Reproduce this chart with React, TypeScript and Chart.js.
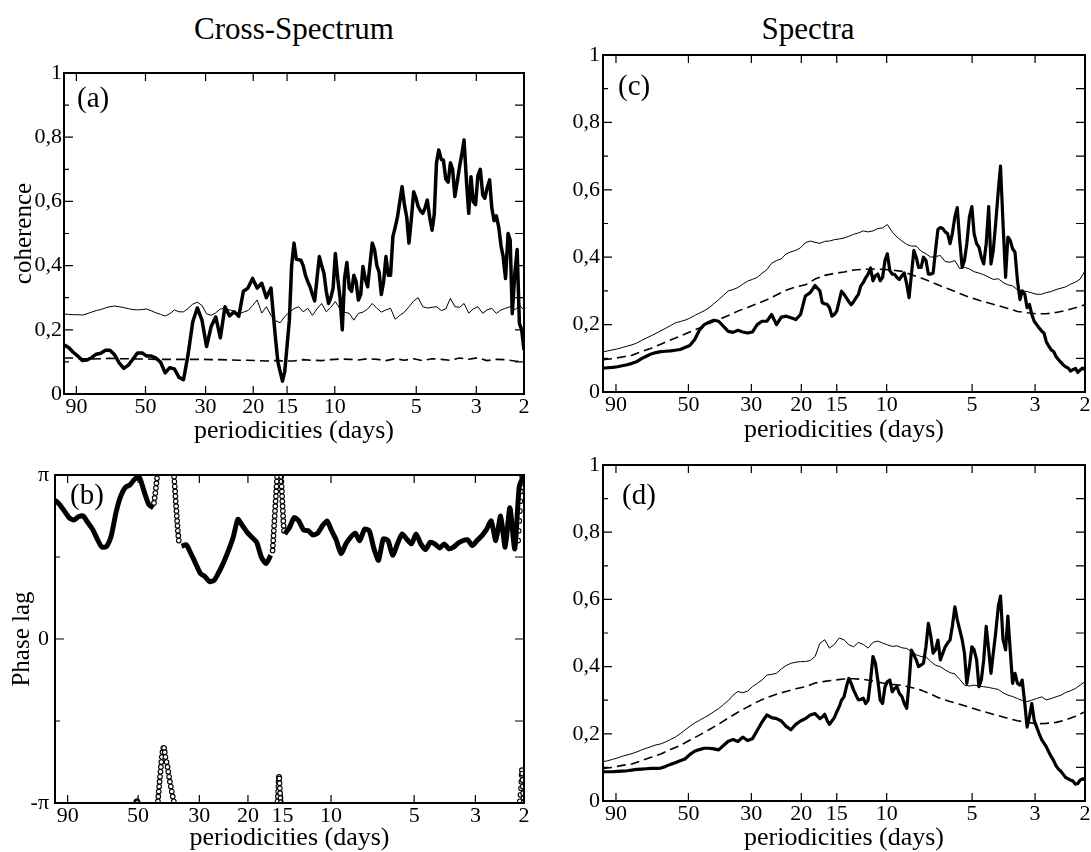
import React, { useEffect, useRef } from "react";
import { Chart, registerables } from "chart.js";
Chart.register(...registerables);

const SERIF = "'Liberation Serif', 'Times New Roman', 'DejaVu Serif', serif";

// ---------------- x axis (periodicities, days) ----------------
const xTickLabels = [90, 50, 30, 20, 15, 10, 5, 3, 2];

// periods sampled every 0.01 of the log range 100 -> 2 days
const periodsCoarse = [
  100, 96.16, 92.48, 88.93, 85.52, 82.24, 79.08, 76.05, 73.13, 70.33,
  67.63, 65.04, 62.54, 60.14, 57.84, 55.62, 53.48, 51.43, 49.46, 47.56,
  45.74, 43.98, 42.3, 40.67, 39.11, 37.61, 36.17, 34.78, 33.45, 32.17,
  30.93, 29.75, 28.61, 27.51, 26.45, 25.44, 24.46, 23.52, 22.62, 21.75,
  20.92, 20.12, 19.35, 18.6, 17.89, 17.2, 16.54, 15.91, 15.3, 14.71,
  14.14, 13.6, 13.08, 12.58, 12.09, 11.63, 11.18, 10.75, 10.34, 9.95,
  9.56, 9.2, 8.84, 8.5, 8.18, 7.87, 7.56, 7.27, 6.99, 6.73,
  6.47, 6.22, 5.98, 5.75, 5.53, 5.32, 5.11, 4.92, 4.73, 4.55,
  4.37, 4.21, 4.04, 3.89, 3.74, 3.6, 3.46, 3.33, 3.2, 3.08,
  2.96, 2.84, 2.74, 2.63, 2.53, 2.43, 2.34, 2.25, 2.16, 2.08,
  2.0,
];

// finer sampling for the noisy thick curves at short periods
const periodsFine = [
  100, 96.16, 92.48, 88.93, 85.52, 82.24, 79.08, 76.05, 73.13, 70.33,
  67.63, 65.04, 62.54, 60.14, 57.84, 55.62, 53.48, 51.43, 49.46, 47.56,
  45.74, 43.98, 42.3, 40.67, 39.11, 37.61, 36.17, 34.78, 33.45, 32.17,
  30.93, 29.75, 28.61, 27.51, 26.45, 25.44, 24.46, 23.52, 22.62, 21.75,
  20.92, 20.12, 19.35, 18.6, 17.89,
  17.2, 16.87, 16.54, 16.22, 15.91, 15.6, 15.3, 15.0, 14.71, 14.43,
  14.14, 13.87, 13.6, 13.34, 13.08, 12.83, 12.58, 12.34, 12.09, 11.86,
  11.63, 11.4, 11.18, 10.96, 10.75, 10.54, 10.34, 10.14, 9.95, 9.75,
  9.56, 9.38, 9.2, 9.02, 8.84, 8.67, 8.5, 8.34, 8.18, 8.02,
  7.87, 7.72, 7.56, 7.42, 7.27, 7.13, 6.99, 6.86, 6.73, 6.6,
  6.47, 6.34, 6.22, 6.1, 5.98, 5.87, 5.75, 5.64, 5.53, 5.42,
  5.32, 5.22, 5.11, 5.01, 4.92, 4.82, 4.73, 4.64, 4.55, 4.46,
  4.37, 4.29, 4.21, 4.13, 4.04, 3.97, 3.89, 3.81, 3.74, 3.67,
  3.6, 3.53, 3.46, 3.39, 3.33, 3.26, 3.2, 3.14, 3.08, 3.02,
  2.96, 2.9, 2.84, 2.79, 2.74, 2.68, 2.63, 2.58, 2.53, 2.48,
  2.43, 2.39, 2.34, 2.29, 2.25, 2.21, 2.16, 2.12, 2.08, 2.04,
  2.0,
];

// coarser sampling for the smooth dashed curves
const periodsDash = [
  100, 92.48, 85.52, 79.08, 73.13, 67.63, 62.54, 57.84, 53.48, 49.46,
  45.74, 42.3, 39.11, 36.17, 33.45, 30.93, 28.61, 26.45, 24.46, 22.62,
  20.92, 19.35, 17.89, 16.54, 15.3, 14.14, 13.08, 12.09, 11.18, 10.34,
  9.56, 8.84, 8.18, 7.56, 6.99, 6.47, 5.98, 5.53, 5.11, 4.73,
  4.37, 4.04, 3.74, 3.46, 3.2, 2.96, 2.74, 2.53, 2.34, 2.16,
  2.0,
];

// ---------------- (a) coherence ----------------
const coherenceThick = [
  0.153, 0.145, 0.13, 0.118, 0.104, 0.106, 0.113, 0.124, 0.127, 0.136,
  0.136, 0.122, 0.097, 0.08, 0.09, 0.109, 0.128, 0.128, 0.118, 0.118,
  0.112, 0.099, 0.066, 0.082, 0.078, 0.052, 0.045, 0.125, 0.225, 0.268,
  0.23, 0.148, 0.21, 0.24, 0.175, 0.272, 0.243, 0.256, 0.242, 0.32,
  0.33, 0.36, 0.33, 0.345, 0.3,
  0.33, 0.25, 0.17, 0.1, 0.07, 0.04, 0.07, 0.15, 0.23, 0.4,
  0.47, 0.42, 0.418, 0.417, 0.4, 0.37, 0.35, 0.334, 0.31, 0.29,
  0.36, 0.428, 0.4, 0.376, 0.32, 0.282, 0.3, 0.33, 0.438, 0.36,
  0.3, 0.2, 0.36, 0.41, 0.33, 0.32, 0.37, 0.35, 0.293, 0.31,
  0.397, 0.36, 0.334, 0.4, 0.47, 0.45, 0.4, 0.38, 0.31, 0.35,
  0.428, 0.37, 0.37, 0.49, 0.52, 0.55, 0.6, 0.646, 0.59, 0.55,
  0.47, 0.54, 0.63, 0.61, 0.584, 0.57, 0.563, 0.58, 0.604, 0.55,
  0.51, 0.56, 0.72, 0.76, 0.73, 0.729, 0.67, 0.66, 0.72, 0.7,
  0.615, 0.66, 0.708, 0.75, 0.791, 0.66, 0.563, 0.677, 0.6, 0.59,
  0.68, 0.7, 0.62, 0.61, 0.64, 0.667, 0.58, 0.54, 0.555, 0.52,
  0.46, 0.43, 0.36, 0.5, 0.48, 0.25, 0.38, 0.45, 0.22, 0.2,
  0.137,
];
const coherenceThin = [
  0.249, 0.248, 0.247, 0.247, 0.246, 0.25, 0.255, 0.26, 0.263, 0.268,
  0.272, 0.274, 0.272, 0.269, 0.266, 0.263, 0.262, 0.263, 0.265, 0.259,
  0.253, 0.248, 0.243, 0.25, 0.262, 0.256, 0.256, 0.267, 0.28, 0.286,
  0.276, 0.25, 0.245, 0.253, 0.265, 0.266, 0.262, 0.258, 0.25, 0.255,
  0.26, 0.275, 0.293, 0.252, 0.272, 0.245, 0.228, 0.222, 0.241, 0.255,
  0.266, 0.272, 0.256, 0.267, 0.245, 0.265, 0.282, 0.256, 0.27, 0.288,
  0.265, 0.255, 0.251, 0.23, 0.251, 0.255, 0.265, 0.282, 0.267, 0.255,
  0.262, 0.267, 0.233, 0.245, 0.255, 0.272, 0.29, 0.3, 0.272, 0.268,
  0.27, 0.272, 0.26, 0.265, 0.298, 0.272, 0.27, 0.282, 0.252, 0.265,
  0.272, 0.251, 0.262, 0.267, 0.251, 0.262, 0.267, 0.272, 0.262, 0.277,
  0.262,
];
const coherenceDashed = [
  0.112, 0.112, 0.11, 0.109, 0.11, 0.111, 0.11, 0.11, 0.109, 0.109,
  0.108, 0.108, 0.108, 0.108, 0.108, 0.108, 0.107, 0.107, 0.106, 0.105,
  0.105, 0.104, 0.103, 0.104, 0.103, 0.103, 0.107, 0.105, 0.104, 0.107,
  0.109, 0.108, 0.106, 0.11, 0.108, 0.104, 0.11, 0.105, 0.11, 0.104,
  0.11, 0.108, 0.105, 0.112, 0.108, 0.113, 0.104, 0.108, 0.107, 0.103,
  0.1,
];

// ---------------- (b) phase lag, in units of pi ----------------
const phaseLagPi = [
  0.848, 0.82, 0.78, 0.74, 0.725, 0.745, 0.75, 0.71, 0.67, 0.61,
  0.56, 0.565, 0.63, 0.77, 0.87, 0.925, 0.94, 0.975, 0.985, 0.9,
  0.82, 0.8, null, null, null, null, null, 0.565, 0.575, 0.52,
  0.46, 0.4, 0.38, 0.35, 0.36, 0.41, 0.47, 0.54, 0.62, 0.73,
  0.69, 0.65, 0.62, 0.59, 0.5, 0.46, 0.51, null, null, 0.64,
  0.68, 0.74, 0.72, 0.665, 0.66, 0.635, 0.645, 0.69, 0.72, 0.66,
  0.6, 0.52, 0.58, 0.62, 0.645, 0.6, 0.67, 0.66, 0.55, 0.48,
  0.61, 0.6, 0.51, 0.58, 0.64, 0.61, 0.58, 0.64, 0.58, 0.545,
  0.59, 0.58, 0.555, 0.58, 0.55, 0.56, 0.585, 0.6, 0.605, 0.57,
  0.6, 0.63, 0.665, 0.72, 0.6, 0.75, 0.56, 0.8, 0.55, 0.93,
  1.0,
];
// individual samples where the phase wraps through +-pi
const phaseJumpPeriods = [
  50.8, 50.6, 50.4, 50.2,
  43.8, 43.55, 43.3, 43.1, 42.9, 42.7,
  42.38, 42.25, 42.1, 41.95, 41.8, 41.65, 41.5, 41.35, 41.2, 41.03, 40.8, 40.51,
  40.28, 40.04,
  39.81, 39.45, 39.11, 38.88, 38.6, 38.35, 38.05, 37.76, 37.45, 37.12,
  37.03, 36.93, 36.83, 36.72, 36.62, 36.52, 36.42, 36.31, 36.21, 36.1, 36.0, 35.89, 35.75, 35.61,
  16.28, 16.24, 16.2, 16.16, 16.12, 16.08, 16.04, 16.0, 15.96, 15.92, 15.88, 15.84, 15.8, 15.76, 15.72, 15.68,
  15.62, 15.58, 15.55, 15.52, 15.49, 15.46, 15.43, 15.4, 15.37, 15.33, 15.29, 15.25, 15.21,
  15.16, 15.13, 15.1, 15.07, 15.04, 15.01, 14.98, 14.95, 14.92, 14.89, 14.85, 14.81,
  2.1, 2.09, 2.08, 2.07, 2.06, 2.05, 2.04, 2.03, 2.02, 2.01,
  2.07, 2.06, 2.05, 2.045, 2.04, 2.035, 2.03, 2.025, 2.02, 2.015, 2.01, 2.005,
];
const phaseJumpLagPi = [
  -0.995, -0.99, -0.99, -0.995,
  0.83, 0.86, 0.89, 0.92, 0.95, 0.98,
  -0.99, -0.96, -0.93, -0.9, -0.87, -0.84, -0.81, -0.78, -0.75, -0.72, -0.69, -0.665,
  -0.665, -0.69,
  -0.72, -0.75, -0.78, -0.81, -0.84, -0.87, -0.9, -0.93, -0.96, -0.99,
  0.99, 0.96, 0.93, 0.9, 0.87, 0.84, 0.81, 0.78, 0.75, 0.72, 0.69, 0.66, 0.63, 0.6,
  0.54, 0.57, 0.6, 0.63, 0.66, 0.69, 0.72, 0.75, 0.78, 0.81, 0.84, 0.87, 0.9, 0.93, 0.96, 0.99,
  -0.99, -0.96, -0.93, -0.9, -0.87, -0.845, -0.84, -0.85, -0.88, -0.91, -0.94, -0.97, -0.995,
  0.99, 0.96, 0.93, 0.9, 0.87, 0.84, 0.81, 0.78, 0.75, 0.72, 0.69, 0.66,
  0.6, 0.66, 0.72, 0.78, 0.84, 0.9, 0.95, 0.99, 0.97, 0.995,
  -0.99, -0.95, -0.91, -0.87, -0.83, -0.8, -0.82, -0.86, -0.9, -0.94, -0.97, -0.995,
];

// ---------------- (c) spectra ----------------
const spectraCThick = [
  0.071, 0.072, 0.073, 0.075, 0.078, 0.081, 0.085, 0.09, 0.099, 0.106,
  0.113, 0.117, 0.12, 0.121, 0.122, 0.124, 0.126, 0.132, 0.138, 0.155,
  0.183, 0.2, 0.207, 0.213, 0.21, 0.195, 0.18, 0.177, 0.183, 0.178,
  0.175, 0.178, 0.2, 0.21, 0.21, 0.23, 0.2, 0.222, 0.225, 0.22,
  0.215, 0.23, 0.285, 0.295, 0.316,
  0.3, 0.265, 0.262, 0.26, 0.25, 0.225, 0.23, 0.24, 0.27, 0.299,
  0.29, 0.279, 0.268, 0.259, 0.268, 0.279, 0.29, 0.315, 0.325, 0.339,
  0.35, 0.368, 0.33, 0.345, 0.35, 0.33, 0.34, 0.39, 0.41, 0.36,
  0.35, 0.349, 0.34, 0.334, 0.345, 0.353, 0.32, 0.28, 0.35, 0.42,
  0.4, 0.37, 0.37, 0.4, 0.39, 0.35, 0.35, 0.353, 0.42, 0.482,
  0.488, 0.485, 0.475, 0.47, 0.44, 0.47, 0.52, 0.547, 0.45, 0.37,
  0.39, 0.44, 0.52, 0.55, 0.47, 0.44, 0.43, 0.4, 0.38, 0.44,
  0.55, 0.38, 0.42, 0.5, 0.6, 0.67, 0.5, 0.34, 0.46, 0.45,
  0.425, 0.415, 0.33, 0.274, 0.3, 0.29, 0.25, 0.26, 0.23, 0.21,
  0.2, 0.19, 0.18, 0.175, 0.15, 0.135, 0.125, 0.12, 0.105, 0.096,
  0.088, 0.081, 0.075, 0.071, 0.062, 0.066, 0.07, 0.058, 0.065, 0.071,
  0.066,
];
const spectraCThin = [
  0.119, 0.122, 0.125, 0.128, 0.132, 0.136, 0.14, 0.145, 0.153, 0.16,
  0.167, 0.174, 0.182, 0.189, 0.197, 0.205, 0.209, 0.213, 0.219, 0.227,
  0.234, 0.241, 0.25, 0.262, 0.274, 0.287, 0.3, 0.304, 0.31, 0.32,
  0.329, 0.334, 0.34, 0.352, 0.363, 0.382, 0.39, 0.395, 0.41, 0.416,
  0.42, 0.428, 0.443, 0.448, 0.444, 0.441, 0.447, 0.448, 0.452, 0.454,
  0.457, 0.462, 0.468, 0.472, 0.478, 0.475, 0.478, 0.485, 0.487, 0.497,
  0.475, 0.46, 0.448, 0.438, 0.433, 0.433, 0.418, 0.41, 0.4, 0.402,
  0.405, 0.387, 0.385, 0.39, 0.366, 0.37, 0.365, 0.357, 0.353, 0.348,
  0.341, 0.334, 0.336, 0.325, 0.318, 0.315, 0.303, 0.3, 0.298, 0.294,
  0.29, 0.29, 0.295, 0.298, 0.304, 0.308, 0.312, 0.32, 0.326, 0.335,
  0.36,
];
const spectraCDashed = [
  0.096, 0.099, 0.104, 0.109, 0.12, 0.13, 0.142, 0.154, 0.166, 0.178,
  0.19, 0.203, 0.215, 0.227, 0.24, 0.251, 0.262, 0.274, 0.288, 0.302,
  0.312, 0.318, 0.335, 0.346, 0.352, 0.356, 0.362, 0.364, 0.365, 0.364,
  0.362, 0.358, 0.348, 0.338, 0.327, 0.315, 0.304, 0.292, 0.281, 0.272,
  0.264, 0.256, 0.248, 0.239, 0.235, 0.232, 0.232, 0.236, 0.242, 0.25,
  0.259,
];

// ---------------- (d) spectra ----------------
const spectraDThick = [
  0.087, 0.087, 0.087, 0.088, 0.089, 0.09, 0.092, 0.094, 0.095, 0.096,
  0.097, 0.097, 0.098, 0.103, 0.109, 0.114, 0.12, 0.125, 0.138, 0.148,
  0.153, 0.157, 0.157, 0.155, 0.152, 0.165, 0.178, 0.183, 0.177, 0.19,
  0.18, 0.185, 0.21, 0.235, 0.256, 0.248, 0.245, 0.238, 0.222, 0.212,
  0.228, 0.238, 0.245, 0.256, 0.26,
  0.245, 0.25, 0.258, 0.24, 0.228, 0.238, 0.248, 0.265, 0.28, 0.3,
  0.31, 0.34, 0.365, 0.35, 0.33, 0.315, 0.301, 0.302, 0.306, 0.29,
  0.3, 0.36, 0.43, 0.41, 0.36, 0.3, 0.29, 0.34, 0.355, 0.36,
  0.325, 0.335, 0.34, 0.32, 0.311, 0.29, 0.276, 0.35, 0.449, 0.435,
  0.42, 0.4, 0.405, 0.41, 0.46, 0.529, 0.49, 0.44, 0.45, 0.479,
  0.42, 0.44, 0.459, 0.47, 0.479, 0.52, 0.578, 0.54, 0.51, 0.48,
  0.44, 0.35, 0.4, 0.459, 0.45, 0.42, 0.34, 0.36, 0.42, 0.52,
  0.45, 0.38, 0.44, 0.5, 0.58, 0.61, 0.48, 0.45, 0.55, 0.45,
  0.35, 0.38, 0.35, 0.345, 0.36, 0.29, 0.22, 0.25, 0.29, 0.24,
  0.22, 0.2, 0.182, 0.172, 0.162, 0.145, 0.132, 0.12, 0.105, 0.095,
  0.088, 0.08, 0.07, 0.066, 0.062, 0.06, 0.05, 0.052, 0.062, 0.066,
  0.063,
];
const spectraDThin = [
  0.117, 0.12, 0.124, 0.128, 0.133, 0.137, 0.141, 0.146, 0.152, 0.157,
  0.162, 0.167, 0.17, 0.176, 0.183, 0.19, 0.2, 0.211, 0.222, 0.232,
  0.24, 0.248, 0.256, 0.266, 0.275, 0.287, 0.299, 0.315, 0.326, 0.322,
  0.327, 0.34, 0.35, 0.36, 0.375, 0.377, 0.38, 0.393, 0.403, 0.41,
  0.413, 0.415, 0.415, 0.418, 0.43, 0.469, 0.48, 0.455, 0.466, 0.485,
  0.48, 0.465, 0.459, 0.472, 0.466, 0.455, 0.472, 0.476, 0.47, 0.465,
  0.46, 0.462, 0.456, 0.454, 0.445, 0.435, 0.43, 0.429, 0.415, 0.404,
  0.4, 0.39, 0.382, 0.378, 0.362, 0.345, 0.342, 0.345, 0.342, 0.34,
  0.338, 0.335, 0.332, 0.322, 0.315, 0.311, 0.305, 0.299, 0.296, 0.3,
  0.305, 0.31, 0.301, 0.305, 0.31, 0.315, 0.323, 0.328, 0.335, 0.345,
  0.355,
];
const spectraDDashed = [
  0.097, 0.1, 0.106, 0.11, 0.12, 0.13, 0.14, 0.153, 0.165, 0.181,
  0.196, 0.212, 0.229, 0.247, 0.264, 0.28, 0.295, 0.308, 0.318, 0.326,
  0.334, 0.34, 0.351, 0.356, 0.36, 0.363, 0.364, 0.362, 0.357, 0.351,
  0.347, 0.344, 0.338, 0.33, 0.318, 0.305, 0.296, 0.288, 0.279, 0.27,
  0.262, 0.254, 0.246, 0.239, 0.234, 0.23, 0.231, 0.234, 0.241, 0.252,
  0.266,
];

const unitTicks = [0, 0.2, 0.4, 0.6, 0.8, 1];
const unitMinor = [0.1, 0.3, 0.5, 0.7, 0.9];
const phaseTicks = [-1, 0, 1];
const phaseMinor = [-0.5, 0.5];

// ---------------- helpers ----------------
function pts(periods: number[], values: (number | null)[]) {
  return periods.map((p, i) => ({ x: p, y: values[i] }));
}
function lineSet(periods: number[], values: (number | null)[], width: number, dash: number[] = [], tension = 0) {
  return {
    type: "line",
    data: pts(periods, values),
    borderColor: "#000",
    borderWidth: width,
    borderDash: dash,
    borderJoinStyle: "round",
    pointRadius: 0,
    fill: false,
    tension,
    spanGaps: false,
  };
}
function pointSet(periods: number[], values: number[]) {
  return {
    type: "line",
    data: pts(periods, values),
    showLine: false,
    borderColor: "#000",
    pointRadius: 2.3,
    pointBorderWidth: 1.1,
    pointBorderColor: "#000",
    pointBackgroundColor: "#fff",
  };
}
const fmtUnit = (v: number) => (v === 0 ? "0" : v === 1 ? "1" : v.toFixed(1).replace(".", ","));
const fmtPhase = (v: number) => (v === 1 ? "π" : v === -1 ? "-π" : "0");

const framePlugin = {
  id: "frame",
  afterDatasetsDraw(chart: any, _args: any, opts: any) {
    const { ctx, chartArea } = chart;
    const { left, right, top, bottom } = chartArea;
    const xs = chart.scales.x;
    const ys = chart.scales.y;
    ctx.save();
    ctx.strokeStyle = "#000";
    ctx.lineWidth = 1.2;
    ctx.beginPath();
    for (const v of xTickLabels) {
      const px = xs.getPixelForValue(v);
      ctx.moveTo(px, bottom);
      ctx.lineTo(px, bottom - 8);
      ctx.moveTo(px, top);
      ctx.lineTo(px, top + 8);
    }
    for (const v of opts.yMajor) {
      const py = ys.getPixelForValue(v);
      ctx.moveTo(left, py);
      ctx.lineTo(left + 9, py);
      ctx.moveTo(right, py);
      ctx.lineTo(right - 9, py);
    }
    for (const v of opts.yMinor) {
      const py = ys.getPixelForValue(v);
      ctx.moveTo(left, py);
      ctx.lineTo(left + 5, py);
      ctx.moveTo(right, py);
      ctx.lineTo(right - 9, py);
    }
    ctx.stroke();
    ctx.lineWidth = 2;
    ctx.strokeRect(left, top, right - left, bottom - top);
    ctx.fillStyle = "#000";
    ctx.font = `29px ${SERIF}`;
    ctx.textAlign = "left";
    ctx.textBaseline = "middle";
    ctx.fillText(opts.label, left + opts.labelDx, top + opts.labelDy);
    ctx.restore();
  },
};

type Rect = { left: number; top: number; width: number; height: number };
type Area = { left: number; top: number; right: number; bottom: number };
type PanelSpec = {
  rect: Rect;
  area: Area;
  yMin: number;
  yMax: number;
  yTicks: number[];
  yMajor: number[];
  yMinor: number[];
  yFormat: (v: number) => string;
  yTitle?: string;
  yTitleX?: number;
  yTickPad: number;
  xTitleY: number;
  label: string;
  labelDx: number;
  labelDy: number;
  datasets: any[];
};

function Panel({ spec }: { spec: PanelSpec }) {
  const ref = useRef<HTMLCanvasElement | null>(null);
  useEffect(() => {
    const r = spec.rect;
    const a = spec.area;
    const padTop = a.top - r.top;
    const padRight = r.left + r.width - a.right;
    const yW = a.left - r.left;
    const xH = r.top + r.height - a.bottom;
    const xTitleSize = 26;
    const yTitleSize = 25;
    const xTitlePadBottom = r.top + r.height - spec.xTitleY - xTitleSize / 2;
    const yTitlePadTop = spec.yTitleX !== undefined ? spec.yTitleX - r.left - yTitleSize / 2 : 0;
    const chart = new Chart(ref.current as HTMLCanvasElement, {
      type: "line",
      data: { datasets: spec.datasets },
      options: {
        animation: false,
        responsive: false,
        maintainAspectRatio: false,
        events: [],
        layout: { padding: { left: 0, top: padTop, right: padRight, bottom: 0 } },
        plugins: {
          legend: { display: false },
          tooltip: { enabled: false },
          frame: { yMajor: spec.yMajor, yMinor: spec.yMinor, label: spec.label, labelDx: spec.labelDx, labelDy: spec.labelDy },
        },
        scales: {
          x: {
            type: "logarithmic",
            reverse: true,
            min: 2,
            max: 100,
            bounds: "data",
            position: "bottom",
            afterBuildTicks: (s: any) => {
              s.ticks = xTickLabels.map((v) => ({ value: v }));
            },
            afterFit: (s: any) => {
              s.height = xH;
            },
            grid: { display: false, drawTicks: false },
            border: { display: false },
            ticks: {
              autoSkip: false,
              maxRotation: 0,
              minRotation: 0,
              padding: 0,
              color: "#000",
              font: { family: SERIF, size: 22, lineHeight: 1.2 },
              callback: (v: any) => String(v),
            },
            title: {
              display: true,
              text: "periodicities (days)",
              color: "#000",
              font: { family: SERIF, size: xTitleSize, lineHeight: 1 },
              padding: { top: 0, bottom: xTitlePadBottom },
            },
          },
          y: {
            type: "linear",
            min: spec.yMin,
            max: spec.yMax,
            bounds: "data",
            position: "left",
            afterBuildTicks: (s: any) => {
              s.ticks = spec.yTicks.map((v) => ({ value: v }));
            },
            afterFit: (s: any) => {
              s.width = yW;
            },
            grid: { display: false, drawTicks: false },
            border: { display: false },
            ticks: {
              padding: spec.yTickPad,
              color: "#000",
              font: { family: SERIF, size: 22, lineHeight: 1.2 },
              callback: (v: any) => spec.yFormat(Number(v)),
            },
            title: {
              display: !!spec.yTitle,
              text: spec.yTitle || "",
              color: "#000",
              font: { family: SERIF, size: yTitleSize, lineHeight: 1 },
              padding: { top: yTitlePadTop, bottom: 0 },
            },
          },
        },
      } as any,
      plugins: [framePlugin as any],
    } as any);
    return () => chart.destroy();
  }, [spec]);
  const r = spec.rect;
  return (
    <canvas
      ref={ref}
      width={r.width}
      height={r.height}
      style={{ position: "absolute", left: r.left, top: r.top, width: r.width, height: r.height }}
    />
  );
}

const panels: PanelSpec[] = [
  {
    rect: { left: 0, top: 30, width: 545, height: 440 },
    area: { left: 64, top: 73, right: 524, bottom: 394 },
    yMin: 0, yMax: 1, yTicks: unitTicks, yMajor: unitTicks, yMinor: unitMinor, yFormat: fmtUnit,
    yTitle: "coherence", yTitleX: 24.5, yTickPad: 2, xTitleY: 431,
    label: "(a)", labelDx: 13, labelDy: 26.5,
    datasets: [
      lineSet(periodsDash, coherenceDashed, 1.6, [9, 5]),
      lineSet(periodsCoarse, coherenceThin, 1),
      lineSet(periodsFine, coherenceThick, 3.5),
    ],
  },
  {
    rect: { left: 0, top: 430, width: 545, height: 422 },
    area: { left: 55, top: 475, right: 524, bottom: 803 },
    yMin: -1, yMax: 1, yTicks: phaseTicks, yMajor: phaseTicks, yMinor: phaseMinor, yFormat: fmtPhase,
    yTitle: "Phase lag", yTitleX: 22, yTickPad: 6, xTitleY: 838,
    label: "(b)", labelDx: 15, labelDy: 21,
    datasets: [
      lineSet(periodsCoarse, phaseLagPi, 5, [], 0.2),
      pointSet(phaseJumpPeriods, phaseJumpLagPi),
    ],
  },
  {
    rect: { left: 545, top: 0, width: 546, height: 470 },
    area: { left: 603, top: 55, right: 1085, bottom: 392 },
    yMin: 0, yMax: 1, yTicks: unitTicks, yMajor: unitTicks, yMinor: unitMinor, yFormat: fmtUnit,
    yTickPad: 3, xTitleY: 430,
    label: "(c)", labelDx: 15, labelDy: 32.5,
    datasets: [
      lineSet(periodsDash, spectraCDashed, 1.6, [9, 5]),
      lineSet(periodsCoarse, spectraCThin, 1),
      lineSet(periodsFine, spectraCThick, 3.2),
    ],
  },
  {
    rect: { left: 545, top: 430, width: 546, height: 422 },
    area: { left: 603, top: 465, right: 1085, bottom: 801 },
    yMin: 0, yMax: 1, yTicks: unitTicks, yMajor: unitTicks, yMinor: unitMinor, yFormat: fmtUnit,
    yTickPad: 3, xTitleY: 838,
    label: "(d)", labelDx: 19, labelDy: 31,
    datasets: [
      lineSet(periodsDash, spectraDDashed, 1.6, [9, 5]),
      lineSet(periodsCoarse, spectraDThin, 1),
      lineSet(periodsFine, spectraDThick, 3.2),
    ],
  },
];

const titleStyle: React.CSSProperties = {
  position: "absolute",
  top: 13,
  fontFamily: SERIF,
  fontSize: 31,
  lineHeight: "31px",
  color: "#000",
  whiteSpace: "nowrap",
  transform: "translateX(-50%)",
};

export default function App() {
  return (
    <div style={{ position: "absolute", left: 0, top: 0, width: 1091, height: 852, background: "#fff", overflow: "hidden" }}>
      <div style={{ ...titleStyle, left: 294 }}>Cross-Spectrum</div>
      <div style={{ ...titleStyle, left: 808 }}>Spectra</div>
      {panels.map((p, i) => (
        <Panel key={i} spec={p} />
      ))}
    </div>
  );
}
